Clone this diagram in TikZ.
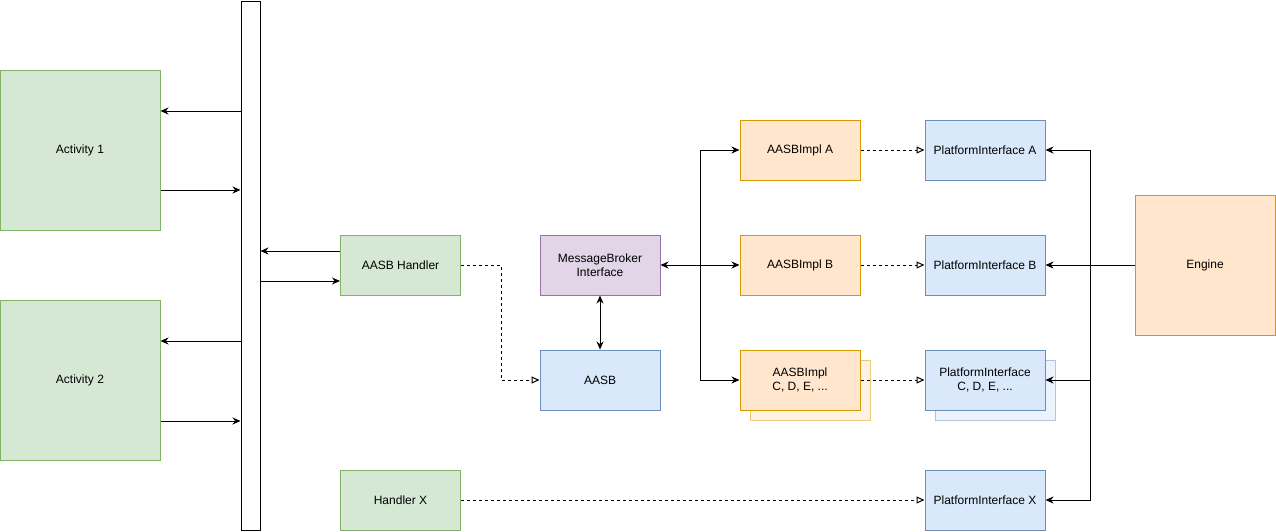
\documentclass[tikz,border=0pt]{standalone}
\usepackage{fontspec}
\setmainfont{Liberation Sans}
\usetikzlibrary{arrows.meta}
\definecolor{gfill}{HTML}{D5E8D4}\definecolor{gline}{HTML}{82B366}
\definecolor{bfill}{HTML}{DAE8FC}\definecolor{bline}{HTML}{6C8EBF}
\definecolor{ofill}{HTML}{FFE6CC}\definecolor{oline}{HTML}{D79B00}
\definecolor{pfill}{HTML}{E1D5E7}\definecolor{pline}{HTML}{9673A6}
\tikzset{
  box/.style={draw, line width=1pt, minimum width=120pt, minimum height=60pt,
    align=center, inner sep=2pt, font=\fontsize{12}{14}\selectfont},
  gbox/.style={box, fill=gfill, draw=gline},
  bbox/.style={box, fill=bfill, draw=bline},
  obox/.style={box, fill=ofill, draw=oline},
  pbox/.style={box, fill=pfill, draw=pline},
  ghost/.style={fill opacity=0.5, draw opacity=0.5},
  arr/.style={line width=1pt, -{Stealth[length=8pt,width=7pt]}},
  biarr/.style={line width=1pt, {Stealth[length=8pt,width=7pt]}-{Stealth[length=8pt,width=7pt]}},
  dasharr/.style={line width=1pt, dash pattern=on 3pt off 3pt,
    -{Triangle[open,length=8pt,width=7pt]}},
}
\begin{document}
\begin{tikzpicture}[x=1pt, y=-1pt]
\useasboundingbox (0,0) rectangle (1276,531);

% left column: activities and the shared bus bar
\node[gbox, minimum width=160pt, minimum height=160pt] (act1) at (80,150) {Activity 1};
\node[gbox, minimum width=160pt, minimum height=160pt] (act2) at (80,380) {Activity 2};
\node[draw, fill=white, line width=1pt, minimum width=19pt, minimum height=529pt, inner sep=0pt] (bar) at (250.5,265.5) {};

% handlers
\node[gbox] (handler) at (400.5,265) {AASB Handler};
\node[gbox] (handlerx) at (400.5,500) {Handler X};

% broker and AASB
\node[pbox] (mbi) at (600,265) {MessageBroker\\Interface};
\node[bbox] (aasb) at (600,380) {AASB};

% implementations (stacked copy behind the last one)
\node[obox] (implA) at (800,150) {AASBImpl A};
\node[obox] (implB) at (800,265) {AASBImpl B};
\node[obox, ghost] (implCs) at (810,390) {};
\node[obox] (implC) at (800,380) {AASBImpl\\C, D, E, ...};

% platform interfaces
\node[bbox] (piA) at (985,150) {PlatformInterface A};
\node[bbox] (piB) at (985,265) {PlatformInterface B};
\node[bbox, ghost] (piCs) at (995,390) {};
\node[bbox] (piC) at (985,380) {PlatformInterface\\C, D, E, ...};
\node[bbox] (piX) at (985,500) {PlatformInterface X};

% engine
\node[obox, minimum width=140pt, minimum height=140pt] (eng) at (1205,265) {Engine};

% activities <-> bar
\coordinate (a1u) at ([yshift=39pt]act1.east);
\coordinate (a1d) at ([yshift=-40pt]act1.east);
\coordinate (a2u) at ([yshift=39pt]act2.east);
\coordinate (a2d) at ([yshift=-41pt]act2.east);
\draw[arr] (bar.west |- a1u) -- (a1u);
\draw[arr] (a1d) -- (bar.west |- a1d);
\draw[arr] (bar.west |- a2u) -- (a2u);
\draw[arr] (a2d) -- (bar.west |- a2d);

% handler <-> bar
\coordinate (hu) at ([yshift=14pt]handler.west);
\coordinate (hd) at ([yshift=-16pt]handler.west);
\draw[arr] (hu) -- (bar.east |- hu);
\draw[arr] (bar.east |- hd) -- (hd);

% handler to AASB, broker to AASB
\draw[dasharr] (handler.east) -- ++(40,0) |- (aasb.west);
\draw[biarr] (mbi.south) -- (aasb.north);

% broker fan-out to implementations
\coordinate (mbus) at (700,265);
\draw[biarr] (mbi.east) -- (implB.west);
\draw[arr] (mbus) |- (implA.west);
\draw[arr] (mbus) |- (implC.west);

% implementations to platform interfaces
\draw[dasharr] (implA.east) -- (piA.west);
\draw[dasharr] (implB.east) -- (piB.west);
\draw[dasharr] (implC.east) -- (piC.west);
\draw[dasharr] (handlerx.east) -- (piX.west);

% engine fan-out to platform interfaces
\coordinate (ebus) at (1090,265);
\draw[arr] (eng.west) -- (piB.east);
\draw[arr] (ebus) |- (piA.east);
\draw[arr] (ebus) |- (piC.east);
\draw[arr] (ebus) |- (piX.east);
\end{tikzpicture}
\end{document}
